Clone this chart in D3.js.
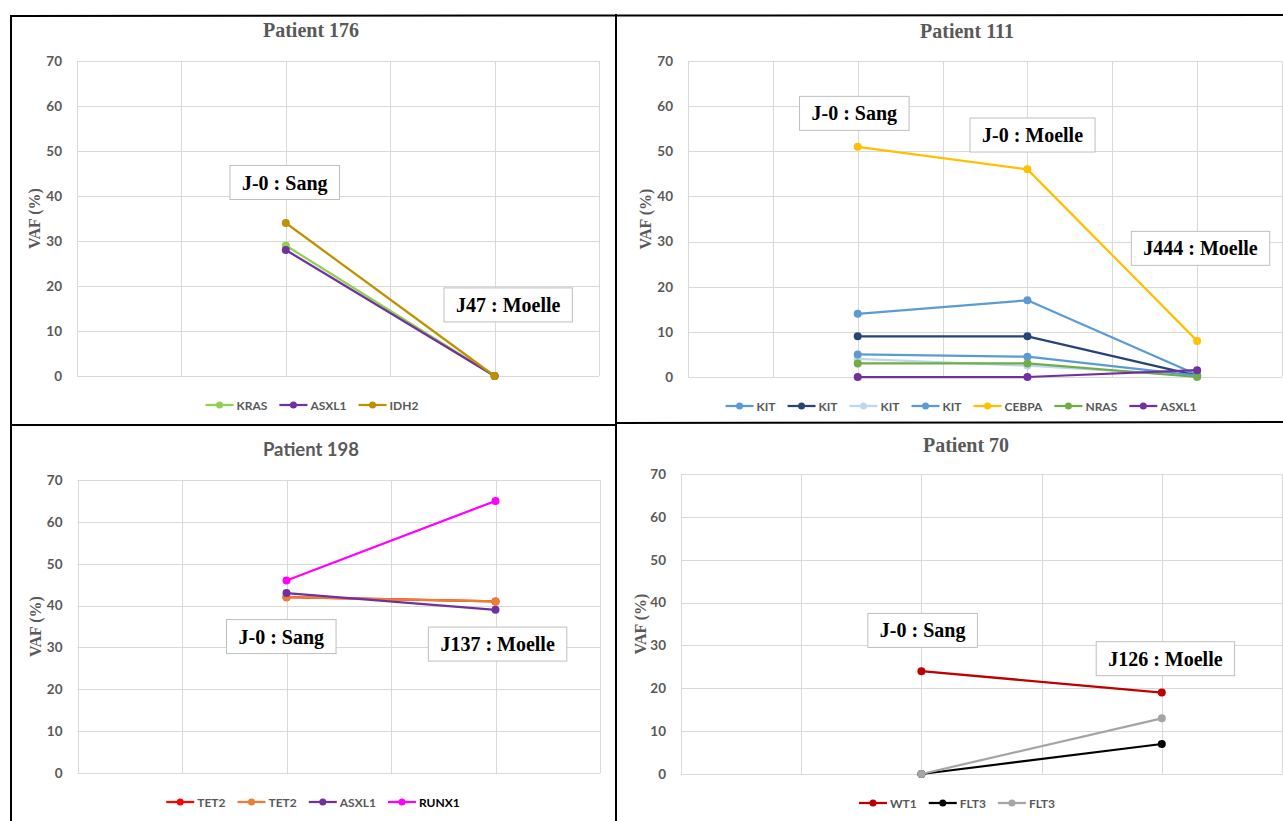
<!DOCTYPE html>
<html>
<head>
<meta charset="utf-8">
<script src="https://cdn.jsdelivr.net/npm/d3@7"></script>
<style>
  html, body { margin: 0; padding: 0; background: #fff; }
  svg { display: block; }
</style>
</head>
<body>
<svg id="chart" width="1283" height="821"></svg>
<script>
// ---------------- DATA ----------------
const yTicks = [0, 10, 20, 30, 40, 50, 60, 70];

// Patient 176 (6 category slots; timepoints sit on slots 2 and 4)
const p176Times = ["J-0 : Sang", "J47 : Moelle"];
const p176Slots = [2, 4];
const p176Genes = ["KRAS", "ASXL1", "IDH2"];
const p176KRAS  = [29, 0];
const p176ASXL1 = [28, 0];
const p176IDH2  = [34, 0];

// Patient 111 (8 category slots; timepoints on slots 2, 4, 6)
const p111Times = ["J-0 : Sang", "J-0 : Moelle", "J444 : Moelle"];
const p111Slots = [2, 4, 6];
const p111Genes = ["KIT", "KIT", "KIT", "KIT", "CEBPA", "NRAS", "ASXL1"];
const p111KIT1  = [14, 17, 0.5];
const p111KIT2  = [9, 9, 0.3];
const p111KIT3  = [4, 2.5, 0.3];
const p111KIT4  = [5, 4.5, 0.3];
const p111CEBPA = [51, 46, 8];
const p111NRAS  = [3, 3, 0];
const p111ASXL1 = [0, 0, 1.5];

// Patient 198 (6 slots; timepoints on slots 2 and 4)
const p198Times = ["J-0 : Sang", "J137 : Moelle"];
const p198Slots = [2, 4];
const p198Genes = ["TET2", "TET2", "ASXL1", "RUNX1"];
const p198TET2a = [42, 41];
const p198TET2b = [42, 41];
const p198ASXL1 = [43, 39];
const p198RUNX1 = [46, 65];

// Patient 70 (6 slots; timepoints on slots 2 and 4)
const p70Times = ["J-0 : Sang", "J126 : Moelle"];
const p70Slots = [2, 4];
const p70Genes = ["WT1", "FLT3", "FLT3"];
const p70WT1   = [24, 19];
const p70FLT3a = [0, 7];
const p70FLT3b = [0, 13];

// ---------------- LAYOUT / STYLE ----------------
const SERIF = "'Liberation Serif', 'Times New Roman', serif";
const SANS = "Lato, 'Liberation Sans', sans-serif";
const GREY = "#595959";

const panels = [
  {
    title: "Patient 176", titleFont: SERIF, titleX: 311, titleY: 37, titleSize: 20,
    left: 77, right: 599, top: 61, bottom: 376, nSlots: 6,
    slots: p176Slots, genes: p176Genes,
    values: [p176KRAS, p176ASXL1, p176IDH2],
    colors: ["#92D050", "#7030A0", "#BF9000"],
    legendColorsText: [GREY, GREY, GREY],
    times: p176Times, labelPos: [[1.99, 43.0], [4.13, 15.8]],
    legendCx: 312, legendY: 405, yLabelX: 34
  },
  {
    title: "Patient 111", titleFont: SERIF, titleX: 967, titleY: 38, titleSize: 20,
    left: 688, right: 1282, top: 61, bottom: 377, nSlots: 8,
    slots: p111Slots, genes: p111Genes,
    values: [p111KIT1, p111KIT2, p111KIT3, p111KIT4, p111CEBPA, p111NRAS, p111ASXL1],
    colors: ["#5B9BD5", "#264478", "#BDD7EE", "#5B9BD5", "#FFC000", "#70AD47", "#7030A0"],
    legendColorsText: [GREY, GREY, GREY, GREY, GREY, GREY, GREY],
    times: p111Times, labelPos: [[1.96, 58.4], [4.06, 53.6], [6.04, 28.5]],
    legendCx: 961, legendY: 406, yLabelX: 645
  },
  {
    title: "Patient 198", titleFont: SANS, titleX: 311, titleY: 456, titleSize: 18.5,
    left: 77.5, right: 600, top: 480, bottom: 773, nSlots: 6,
    slots: p198Slots, genes: p198Genes,
    values: [p198TET2a, p198TET2b, p198ASXL1, p198RUNX1],
    colors: ["#FF0000", "#ED7D31", "#7030A0", "#FF00FF"],
    legendColorsText: [GREY, GREY, GREY, "#000000"],
    times: p198Times, labelPos: [[1.95, 32.6], [4.02, 30.8]],
    legendCx: 313, legendY: 802, yLabelX: 35
  },
  {
    title: "Patient 70", titleFont: SERIF, titleX: 966, titleY: 452, titleSize: 20,
    left: 681, right: 1282, top: 474, bottom: 774, nSlots: 6,
    slots: p70Slots, genes: p70Genes,
    values: [p70WT1, p70FLT3a, p70FLT3b],
    colors: ["#C00000", "#000000", "#A5A5A5"],
    legendColorsText: [GREY, GREY, GREY],
    times: p70Times, labelPos: [[2.01, 33.5], [4.03, 26.9]],
    legendCx: 957, legendY: 803, yLabelX: 640
  }
];

const svg = d3.select("#chart");
svg.append("rect").attr("width", 1283).attr("height", 821).attr("fill", "#fff");

function drawPanel(cfg) {
  const g = svg.append("g");
  const x = d3.scaleLinear().domain([0, cfg.nSlots - 1]).range([cfg.left, cfg.right]);
  const y = d3.scaleLinear().domain([0, 70]).range([cfg.bottom, cfg.top]);

  // horizontal gridlines
  g.append("g").selectAll("line").data(yTicks).join("line")
    .attr("x1", cfg.left).attr("x2", cfg.right)
    .attr("y1", d => Math.round(y(d)) + 0.5).attr("y2", d => Math.round(y(d)) + 0.5)
    .attr("stroke", "#D9D9D9").attr("stroke-width", 1);
  // vertical gridlines
  g.append("g").selectAll("line").data(d3.range(cfg.nSlots)).join("line")
    .attr("x1", d => Math.round(x(d)) + 0.5).attr("x2", d => Math.round(x(d)) + 0.5)
    .attr("y1", cfg.top).attr("y2", cfg.bottom)
    .attr("stroke", "#D9D9D9").attr("stroke-width", 1);

  // y axis labels
  const ax = g.append("g").attr("transform", `translate(${cfg.left},0)`)
    .call(d3.axisLeft(y).tickValues(yTicks).tickSize(0).tickPadding(15));
  ax.select(".domain").remove();
  ax.selectAll("text").attr("font-family", SANS).attr("font-weight", "bold")
    .attr("font-size", 13.5).attr("fill", GREY);

  // y axis title
  g.append("text")
    .attr("transform", `translate(${cfg.yLabelX},${(cfg.top + cfg.bottom) / 2}) rotate(-90)`)
    .attr("text-anchor", "middle").attr("dominant-baseline", "central")
    .attr("font-family", SERIF).attr("font-weight", "bold").attr("font-size", 16)
    .attr("fill", GREY).text("VAF (%)");

  // chart title
  g.append("text").attr("x", cfg.titleX).attr("y", cfg.titleY)
    .attr("text-anchor", "middle").attr("font-family", cfg.titleFont)
    .attr("font-weight", "bold").attr("font-size", cfg.titleSize).attr("fill", GREY)
    .text(cfg.title);

  // series lines + markers
  const line = d3.line().x((d, i) => x(cfg.slots[i])).y(d => y(d));
  cfg.values.forEach((vals, si) => {
    const sg = g.append("g");
    sg.append("path").datum(vals).attr("d", line)
      .attr("fill", "none").attr("stroke", cfg.colors[si])
      .attr("stroke-width", 2.25).attr("stroke-linejoin", "round");
    sg.selectAll("circle").data(vals).join("circle")
      .attr("cx", (d, i) => x(cfg.slots[i])).attr("cy", d => y(d))
      .attr("r", 4).attr("fill", cfg.colors[si]);
  });

  // annotation boxes
  cfg.times.forEach((t, i) => {
    const [sx, sv] = cfg.labelPos[i];
    const cx = x(sx), cy = y(sv);
    const lg = g.append("g");
    const rect = lg.append("rect");
    const txt = lg.append("text").attr("x", cx).attr("y", cy)
      .attr("text-anchor", "middle").attr("dominant-baseline", "central")
      .attr("font-family", SERIF).attr("font-weight", "bold").attr("font-size", 20)
      .attr("fill", "#000").text(t);
    const w = txt.node().getComputedTextLength() + 24;
    const h = 34;
    rect.attr("x", cx - w / 2).attr("y", cy - h / 2).attr("width", w).attr("height", h)
      .attr("fill", "#fff").attr("stroke", "#BFBFBF").attr("stroke-width", 1);
  });

  // legend
  const leg = g.append("g");
  let xpos = 0;
  const items = [];
  cfg.genes.forEach((name, i) => {
    const it = leg.append("g");
    it.append("line").attr("x1", 0).attr("x2", 28).attr("y1", 0).attr("y2", 0)
      .attr("stroke", cfg.colors[i]).attr("stroke-width", 2.25);
    it.append("circle").attr("cx", 14).attr("cy", 0).attr("r", 3.5).attr("fill", cfg.colors[i]);
    const tx = it.append("text").attr("x", 31).attr("y", 0).attr("dominant-baseline", "central")
      .attr("font-family", SANS).attr("font-weight", "bold").attr("font-size", 12)
      .attr("fill", cfg.legendColorsText[i]).text(name);
    const w = 31 + tx.node().getComputedTextLength();
    items.push({ it, w });
  });
  const gap = 12;
  const total = d3.sum(items, d => d.w) + gap * (items.length - 1);
  xpos = cfg.legendCx - total / 2;
  items.forEach(d => {
    d.it.attr("transform", `translate(${xpos},${cfg.legendY})`);
    xpos += d.w + gap;
  });
}

panels.forEach(drawPanel);

// panel frames (black borders)
const frame = svg.append("g").attr("stroke", "#000").attr("stroke-width", 2);
frame.append("line").attr("x1", 10).attr("x2", 1283).attr("y1", 16).attr("y2", 15);
frame.append("line").attr("x1", 11).attr("x2", 11).attr("y1", 16).attr("y2", 821);
frame.append("line").attr("x1", 616).attr("x2", 616).attr("y1", 14).attr("y2", 821);
frame.append("line").attr("x1", 10).attr("x2", 616).attr("y1", 425).attr("y2", 425);
frame.append("line").attr("x1", 616).attr("x2", 1283).attr("y1", 423).attr("y2", 422);
</script>
</body>
</html>
